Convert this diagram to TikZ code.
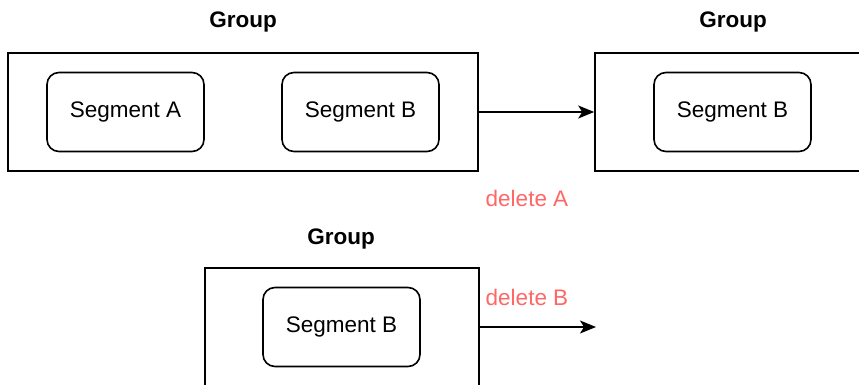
\documentclass[tikz,border=0pt]{standalone}
\usepackage{fontspec}
\setmainfont{Liberation Sans}
\usepackage{xcolor}
\usetikzlibrary{arrows.meta,positioning}
\definecolor{delred}{RGB}{255,102,102}
\tikzset{
  group/.style={rectangle,draw,line width=1.6pt,minimum height=118pt,inner sep=0pt},
  segment/.style={rectangle,draw,line width=1.6pt,rounded corners=12pt,minimum width=157pt,minimum height=79pt,inner sep=0pt,font=\fontsize{22.5}{27}\selectfont},
  grouplabel/.style={font=\fontsize{22.5}{27}\selectfont\bfseries},
  dellabel/.style={text=delred,font=\fontsize{22.5}{27}\selectfont},
  move/.style={-{Stealth[length=16pt,width=13pt,inset=4pt]},line width=1.6pt}
}
\begin{document}
\begin{tikzpicture}[x=1pt,y=1pt]
\useasboundingbox (0,0) rectangle (859,385);
\clip (0,0) rectangle (859,385);
% group before deleting A
\node[group,minimum width=470pt] (grpA) at (243,273) {};
\node[grouplabel] (grpAlbl) at (243,363) {Group};
\node[segment] (segA) at (125.5,273) {Segment A};
\node[segment] (segB) at (360.5,273) {Segment B};

% group after deleting A
\node[group,minimum width=276pt] (grpB) at (733,273) {};
\node[grouplabel] (grpBlbl) at (733,363) {Group};
\node[segment] (segBb) at (732.5,273) {Segment B};

\draw[move] (grpA) -- (grpB);
\node[dellabel] (delA) at (527,187) {delete A};

% group before deleting B
\node[group,minimum width=274pt] (grpC) at (342,58) {};
\node[grouplabel] (grpClbl) at (341,146) {Group};
\node[segment] (segBc) at (341.5,58) {Segment B};

\coordinate (gone) at (596,58);
\draw[move] (grpC) -- (gone);
\node[dellabel] (delB) at (527,88) {delete B};
\end{tikzpicture}
\end{document}
